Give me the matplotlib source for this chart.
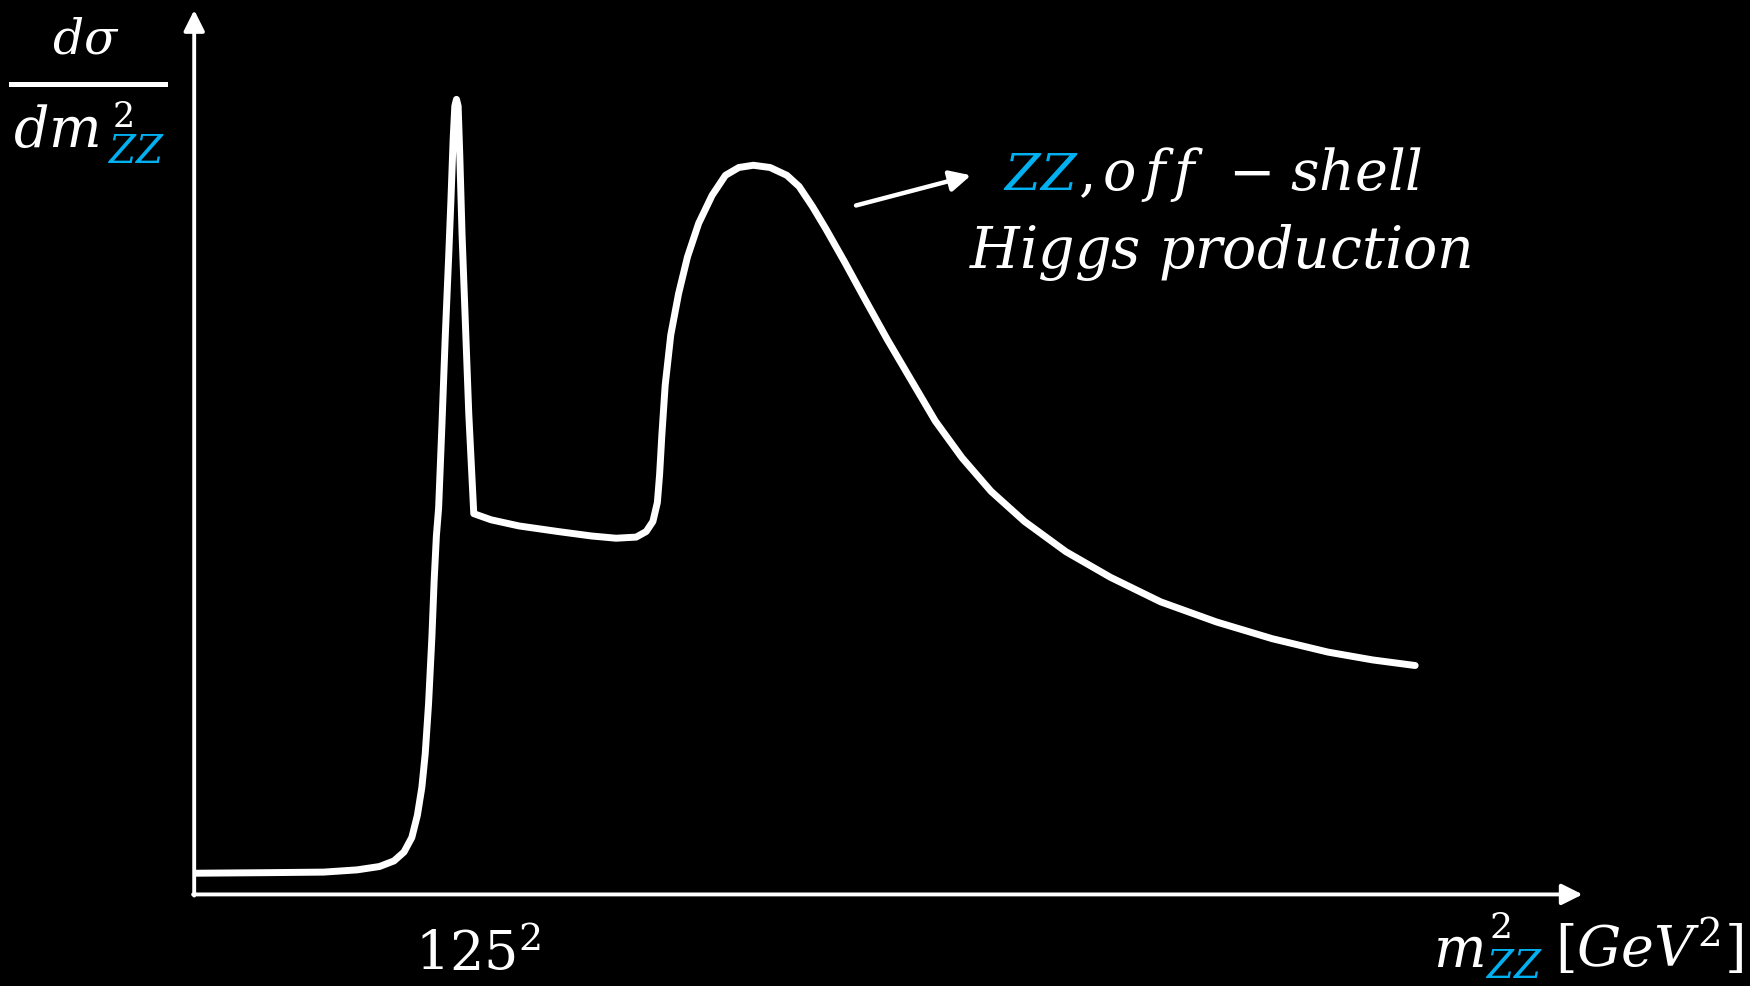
import matplotlib
matplotlib.use("Agg")
import matplotlib.pyplot as plt
from matplotlib.lines import Line2D

plt.rcParams['mathtext.fontset'] = 'dejavuserif'
plt.rcParams['font.family'] = ['DejaVu Serif']

# curve (x: m_ZZ^2, y: dsigma/dm^2, arbitrary units)
m2 = [2, 66, 116, 146, 166, 179, 188, 195, 200, 204, 207, 210, 213, 215, 217, 219,
      222, 225, 228, 230, 232, 233.5, 235, 236.5, 238, 240, 243, 246, 249, 250.5,
      266, 291, 326, 356, 378, 396, 405, 411, 415, 417, 419, 422, 427, 434, 442,
      452, 464, 476, 488, 501, 516, 531, 542, 554, 566, 583, 601, 621, 641, 664,
      688, 714, 744, 781, 821, 866, 916, 966, 1016, 1056, 1094]
xsec = [19, 19.5, 20, 22, 25, 30, 38, 51, 71, 96, 126, 171, 231, 281, 321, 346,
        421, 501, 571, 621, 676, 706, 712, 706, 661, 591, 511, 431, 371, 341,
        335.5, 330, 325, 321, 319, 320, 325, 334, 351, 376, 411, 456, 501, 538, 571,
        601, 626, 644, 651, 653, 651, 644, 634, 616, 596, 566, 533, 497, 463, 424,
        391, 361, 334, 307, 284, 262, 244, 229, 217, 210, 205]

BLUE = '#00B0F0'
W, H = 1568, 883  # reference pixel grid used for placing text

fig = plt.figure(figsize=(17.5, 9.86), dpi=100, facecolor='black')
ax = fig.add_axes([0, 0, 1, 1])
ax.set_facecolor('black')
ax.set_xlim(-174, W - 174)
ax.set_ylim(801 - H, 801)
ax.axis('off')

# axes with arrow heads
arrow = dict(arrowstyle='-|>,head_length=0.9,head_width=0.45', color='white',
             lw=2.8, shrinkA=0, shrinkB=0, mutation_scale=14)
ax.annotate('', xy=(1244, 0), xytext=(-1, 0), arrowprops=arrow)
ax.annotate('', xy=(0, 792), xytext=(0, -1), arrowprops=arrow)

ax.plot(m2, xsec, color='white', lw=5, solid_joinstyle='round',
        solid_capstyle='round')

# annotation arrow
ax.annotate('', xy=(696, 644), xytext=(593, 617),
            arrowprops=dict(arrowstyle='-|>,head_length=0.9,head_width=0.45',
                            color='white', lw=3.2, shrinkA=0, shrinkB=0,
                            mutation_scale=14))


def put(x, y, s, size, color='white', ha='left'):
    fig.text(x / W, 1 - y / H, s, fontsize=size, color=color, ha=ha, va='baseline')


# y label as fraction
put(77, 48, r'$d\sigma$', 35, ha='center')
fig.add_artist(Line2D([10 / W, 148 / W], [1 - 75.5 / H, 1 - 75.5 / H], color='white', lw=3.6))
put(12, 132, r'$dm$', 40)
put(100, 114, r'$2$', 25)
put(96, 146, r'$ZZ$', 28, color=BLUE)

# annotation text, pieces placed with the wide math spacing of the sketch
put(899, 170, r'$ZZ$', 37, color=BLUE)
put(966, 170, r'$,$', 40)
put(987, 170, r'$o\,f\,f$', 40)
put(1100, 170, r'$-$', 40)
put(1156, 170, r'$shell$', 40)
put(868, 240, r'$Higgs\ production$', 41)

# x tick and label
put(372, 870, r'$\mathrm{125}^{2}$', 39)
put(1284, 866, r'$m$', 40)
put(1334, 840, r'$2$', 26)
put(1331, 876, r'$ZZ$', 28, color=BLUE)
put(1393, 866, r'$[GeV^{2}]$', 40)

fig.savefig('out.png', dpi=100, facecolor='black')
